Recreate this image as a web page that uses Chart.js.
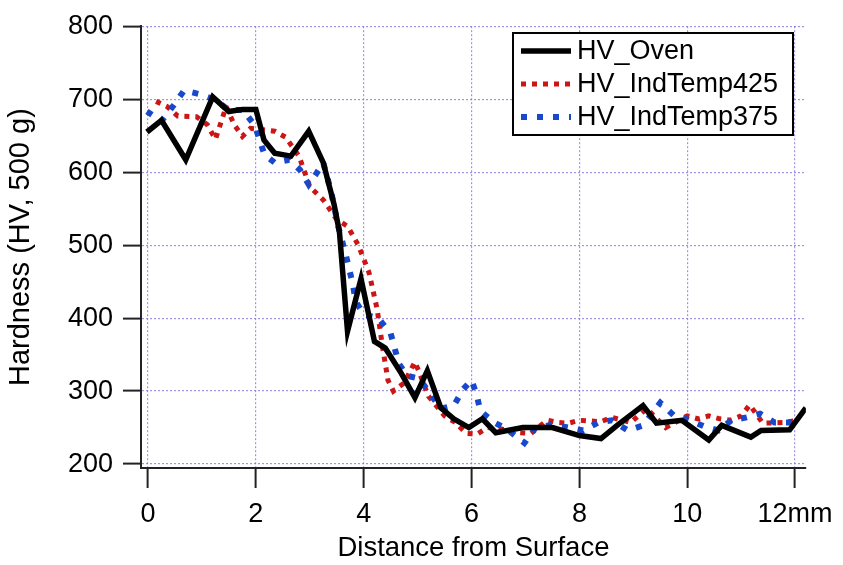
<!DOCTYPE html>
<html>
<head>
<meta charset="utf-8">
<script src="https://cdn.jsdelivr.net/npm/chart.js@4.4.0/dist/chart.umd.min.js"></script>
<style>
  html, body { margin: 0; padding: 0; background: #fff; }
  #wrap { width: 843px; height: 565px; }
</style>
</head>
<body>
<div id="wrap"><canvas id="hvChart" width="843" height="565"></canvas></div>
<script>
// distance (mm) and hardness (HV)
const ovenX = [-0.02, 0.25, 0.7, 1.2, 1.5, 1.75, 2.0, 2.15, 2.35, 2.65, 2.98, 3.25, 3.45, 3.55, 3.7, 3.95, 4.2, 4.4, 4.7, 4.95, 5.18, 5.43, 5.67, 5.95, 6.2, 6.45, 6.95, 7.5, 8.0, 8.4, 8.7, 9.18, 9.43, 9.9, 10.4, 10.64, 11.18, 11.37, 11.9, 12.2];
const ovenY = [655, 671, 617, 703, 683, 686, 686, 644, 626, 622, 656, 613, 556, 518, 382, 454, 368, 359, 324, 291, 328, 277, 262, 250, 262, 243, 250, 250, 239, 235, 253, 280, 256, 260, 233, 253, 237, 246, 247, 277];

const ind425X = [0.15, 0.35, 0.55, 0.9, 1.1, 1.25, 1.45, 1.6, 1.75, 1.9, 2.35, 2.55, 2.8, 3.0, 3.25, 3.5, 3.7, 3.9, 4.1, 4.25, 4.35, 4.45, 4.55, 4.75, 4.95, 5.05, 5.2, 5.5, 5.7, 5.9, 6.1, 6.3, 6.5, 6.85, 7.1, 7.4, 7.6, 7.8, 8.0, 8.4, 8.6, 8.95, 9.25, 9.6, 10.0, 10.2, 10.4, 10.6, 10.8, 11.0, 11.16, 11.4, 11.8, 12.05];
const ind425Y = [697, 690, 677, 676, 665, 645, 690, 665, 649, 660, 656, 648, 622, 580, 562, 535, 526, 500, 462, 412, 360, 315, 300, 311, 340, 322, 293, 266, 257, 242, 241, 250, 249, 243, 242, 260, 257, 256, 260, 258, 264, 257, 276, 250, 266, 262, 266, 262, 260, 266, 281, 256, 257, 260];

const ind375X = [-0.02, 0.25, 0.48, 0.67, 0.95, 1.22, 1.5, 1.76, 1.98, 2.16, 2.35, 2.62, 2.82, 2.98, 3.13, 3.25, 3.4, 3.52, 3.67, 3.8, 3.85, 4.0, 4.27, 4.5, 4.65, 4.8, 5.03, 5.15, 5.43, 5.67, 5.85, 6.0, 6.1, 6.16, 6.4, 6.67, 6.98, 7.18, 7.5, 7.8, 8.07, 8.35, 8.6, 8.9, 9.18, 9.5, 9.76, 10.0, 10.3, 10.58, 10.82, 11.1, 11.35, 11.62, 11.95];
const ind375Y = [683, 670, 692, 712, 707, 700, 685, 685, 664, 624, 613, 617, 603, 583, 599, 613, 572, 528, 486, 446, 423, 405, 400, 379, 338, 321, 317, 305, 276, 280, 303, 315, 294, 273, 258, 247, 229, 249, 254, 250, 246, 257, 260, 246, 253, 284, 266, 261, 252, 246, 260, 264, 269, 257, 257];

const seriesNames = ['HV_Oven', 'HV_IndTemp425', 'HV_IndTemp375'];
const xTickValues = [0, 2, 4, 6, 8, 10, 12];
const xTickLabels = ['0', '2', '4', '6', '8', '10', '12mm'];
const yTickValues = [200, 300, 400, 500, 600, 700, 800];

const FONT = "'Liberation Sans', Arial, sans-serif";
const FSIZE = 27;

function pts(xs, ys) {
    return xs.map((x, i) => ({ x: x, y: ys[i] }));
}

// legend box drawn by hand, the way the original has it
const boxLegend = {
    id: 'boxLegend',
    afterDraw(chart) {
        const ctx = chart.ctx;
        const left = 513, top = 33, w = 280, h = 102;
        ctx.save();
        ctx.fillStyle = '#fff';
        ctx.fillRect(left, top, w, h);
        ctx.lineWidth = 2;
        ctx.strokeStyle = '#000';
        ctx.strokeRect(left, top, w, h);
        ctx.font = FSIZE + 'px ' + FONT;
        ctx.textBaseline = 'middle';
        chart.data.datasets.forEach((ds, i) => {
            const y = top + 18 + i * 33;
            ctx.beginPath();
            ctx.lineWidth = ds.borderWidth;
            ctx.strokeStyle = ds.borderColor;
            ctx.setLineDash(ds.borderDash || []);
            ctx.moveTo(left + 8, y);
            ctx.lineTo(left + 58, y);
            ctx.stroke();
            ctx.setLineDash([]);
            ctx.fillStyle = '#000';
            ctx.fillText(ds.label, left + 64, y + 1);
        });
        ctx.restore();
    }
};

const gridOpts = {
    color: 'rgba(140, 120, 220, 0.8)',
    lineWidth: 1.2,
    tickColor: '#222',
    tickWidth: 2,
    tickBorderDash: []
};

new Chart(document.getElementById('hvChart').getContext('2d'), {
    type: 'line',
    data: {
        datasets: [
            {
                label: seriesNames[0],
                data: pts(ovenX, ovenY),
                borderColor: '#000000',
                borderWidth: 5.5,
                pointRadius: 0,
                tension: 0,
                order: 1
            },
            {
                label: seriesNames[1],
                data: pts(ind425X, ind425Y),
                borderColor: '#cc1515',
                borderWidth: 5,
                borderDash: [5, 6],
                pointRadius: 0,
                tension: 0,
                order: 3
            },
            {
                label: seriesNames[2],
                data: pts(ind375X, ind375Y),
                borderColor: '#1848cc',
                borderWidth: 6,
                borderDash: [6, 10],
                pointRadius: 0,
                tension: 0,
                order: 2
            }
        ]
    },
    options: {
        responsive: false,
        animation: false,
        layout: {
            padding: { top: 22, right: 25, left: 0, bottom: 0 }
        },
        plugins: {
            legend: { display: false },
            tooltip: { enabled: false }
        },
        scales: {
            x: {
                type: 'linear',
                min: -0.13,
                max: 12.2,
                afterFit(scale) { scale.height = 97; },
                afterBuildTicks(scale) {
                    scale.ticks = xTickValues.map(v => ({ value: v }));
                },
                ticks: {
                    autoSkip: false,
                    maxRotation: 0,
                    padding: 10,
                    color: '#000',
                    font: { family: FONT, size: FSIZE },
                    callback: function (value) {
                        const i = xTickValues.indexOf(value);
                        return i >= 0 ? xTickLabels[i] : '';
                    }
                },
                grid: Object.assign({ tickLength: 20 }, gridOpts),
                border: { display: true, color: '#222', width: 2, dash: [2, 2] },
                title: {
                    display: true,
                    text: 'Distance from Surface',
                    color: '#000',
                    font: { family: FONT, size: 27.5 },
                    padding: { top: 0, bottom: 0 }
                }
            },
            y: {
                min: 194.6,
                max: 800,
                afterFit(scale) { scale.width = 141; },
                afterBuildTicks(scale) {
                    scale.ticks = yTickValues.map(v => ({ value: v }));
                },
                ticks: {
                    padding: 10,
                    color: '#000',
                    font: { family: FONT, size: FSIZE }
                },
                grid: Object.assign({ tickLength: 18 }, gridOpts),
                border: { display: true, color: '#222', width: 2, dash: [2, 2] },
                title: {
                    display: true,
                    text: 'Hardness (HV, 500 g)',
                    color: '#000',
                    font: { family: FONT, size: 29 },
                    padding: { top: 4, bottom: 0 }
                }
            }
        }
    },
    plugins: [boxLegend]
});
</script>
</body>
</html>
